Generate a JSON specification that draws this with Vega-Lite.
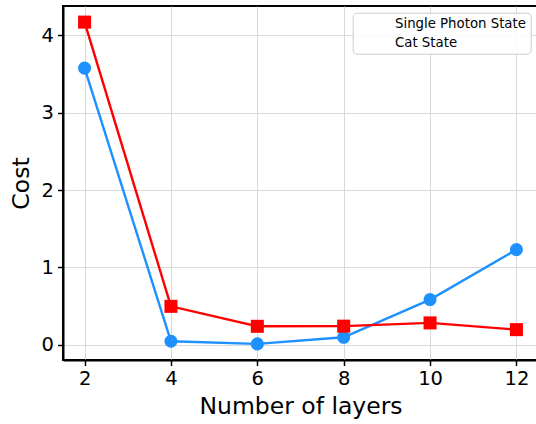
{
  "$schema": "https://vega.github.io/schema/vega-lite/v6.json",
  "autosize": "none",
  "width": 475,
  "height": 354,
  "padding": {"left": 63, "top": 6, "right": 0, "bottom": 64},
  "background": "white",
  "config": {
    "font": "DejaVu Sans",
    "view": {"stroke": "black", "strokeWidth": 2},
    "axis": {
      "domainColor": "black",
      "domainWidth": 2,
      "tickColor": "black",
      "tickWidth": 1.5,
      "tickSize": 5.5,
      "labelColor": "black",
      "labelFontSize": 19.5,
      "labelPadding": 4,
      "titleColor": "black",
      "titleFontSize": 23.5,
      "titleFontWeight": "normal",
      "grid": true,
      "gridColor": "#d9d9d9",
      "gridWidth": 1
    }
  },
  "data": {
    "values": [
      {"layers": 2, "cost": 3.574, "series": "Single Photon State"},
      {"layers": 4, "cost": 0.047, "series": "Single Photon State"},
      {"layers": 6, "cost": 0.013, "series": "Single Photon State"},
      {"layers": 8, "cost": 0.098, "series": "Single Photon State"},
      {"layers": 10, "cost": 0.585, "series": "Single Photon State"},
      {"layers": 12, "cost": 1.23, "series": "Single Photon State"},
      {"layers": 2, "cost": 4.168, "series": "Cat State"},
      {"layers": 4, "cost": 0.498, "series": "Cat State"},
      {"layers": 6, "cost": 0.24, "series": "Cat State"},
      {"layers": 8, "cost": 0.242, "series": "Cat State"},
      {"layers": 10, "cost": 0.284, "series": "Cat State"},
      {"layers": 12, "cost": 0.197, "series": "Cat State"}
    ]
  },
  "encoding": {
    "x": {
      "field": "layers",
      "type": "quantitative",
      "title": "Number of layers",
      "scale": {"domain": [1.5, 12.5], "nice": false, "zero": false},
      "axis": {"values": [2, 4, 6, 8, 10, 12], "titlePadding": 6}
    },
    "y": {
      "field": "cost",
      "type": "quantitative",
      "title": "Cost",
      "scale": {"domain": [-0.195, 4.376], "nice": false, "zero": false},
      "axis": {"values": [0, 1, 2, 3, 4], "titlePadding": 8}
    }
  },
  "layer": [
    {
      "mark": {"type": "line", "strokeWidth": 2.4},
      "encoding": {
        "stroke": {
          "field": "series",
          "type": "nominal",
          "sort": ["Single Photon State", "Cat State"],
          "scale": {"range": ["#1E90FF", "#FF0000"]},
          "legend": null
        }
      }
    },
    {
      "transform": [{"filter": "datum.series === 'Single Photon State'"}],
      "mark": {"type": "point", "shape": "circle", "filled": true, "opacity": 1, "size": 170, "color": "#1E90FF"}
    },
    {
      "transform": [{"filter": "datum.series === 'Cat State'"}],
      "mark": {"type": "point", "shape": "square", "filled": true, "opacity": 1, "size": 170, "color": "#FF0000"}
    },
    {
      "mark": {"type": "point", "filled": true, "opacity": 0, "size": 170},
      "encoding": {
        "color": {
          "field": "series",
          "type": "nominal",
          "title": null,
          "scale": {"domain": ["Single Photon State", "Cat State"], "range": ["#1E90FF", "#FF0000"]},
          "legend": {
            "orient": "none",
            "legendX": 289.7,
            "legendY": 6.7,
            "padding": 4,
            "rowPadding": 5,
            "labelFont": "DejaVu Sans",
            "labelFontSize": 13.3,
            "labelColor": "black",
            "labelOffset": 24.3,
            "symbolSize": 196,
            "symbolStrokeWidth": 0,
            "symbolOpacity": 1,
            "strokeColor": "#cccccc",
            "fillColor": "rgba(255,255,255,0.85)",
            "cornerRadius": 4
          }
        },
        "shape": {
          "field": "series",
          "type": "nominal",
          "title": null,
          "scale": {
            "domain": ["Single Photon State", "Cat State"],
            "range": [
              "M-1,-0.17H3.04V0.17H-1Z M1.01,-1A1,1 0 1,1 1.01,1A1,1 0 1,1 1.01,-1Z",
              "M-1,-0.17H3.04V0.17H-1Z M0.01,-0.95H2.01V0.95H0.01Z"
            ]
          }
        }
      }
    }
  ]
}
